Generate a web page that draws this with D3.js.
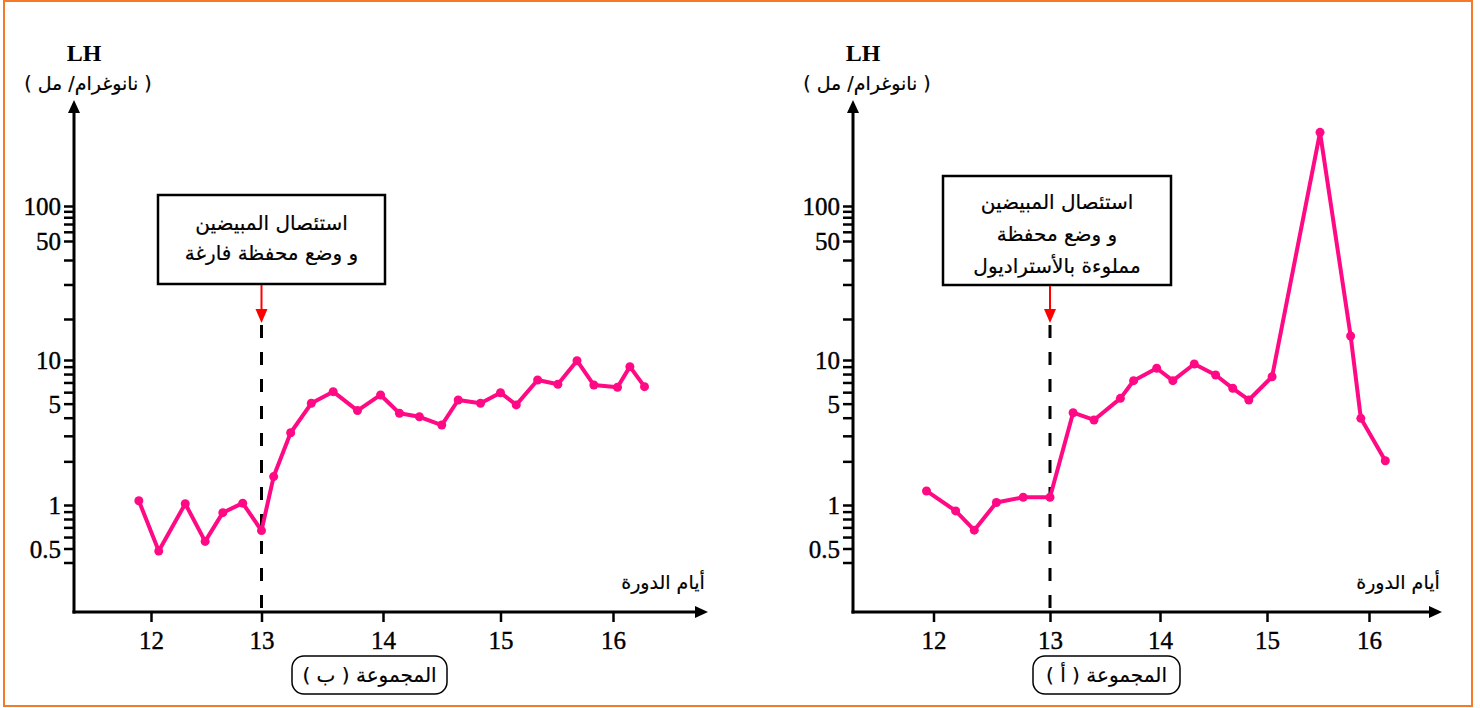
<!DOCTYPE html>
<html><head><meta charset="utf-8">
<script src="https://cdn.jsdelivr.net/npm/d3@7"></script>
<style>body{margin:0;background:#fff}svg{display:block}</style>
</head><body>
<svg id="chart" width="1480" height="708"></svg>
<script>
// ---- data ----
const yTickValues = [0.4,0.5,0.6,0.7,0.8,0.9,1,2,3,4,5,6,7,8,9,10,20,30,40,50,60,70,80,90,100];
const yTickLabels = [0.5,1,5,10,50,100];
const xTickValues = [12,13,14,15,16];
const yUnitLabel = "LH";
const yUnitSub = "( نانوغرام/ مل )";
const xAxisTitle = "أيام الدورة";

// Group B (left)
const groupBDays = [11.89,12.07,12.31,12.49,12.65,12.83,13.0,13.10,13.24,13.41,13.59,13.79,13.98,14.14,14.31,14.50,14.64,14.83,15.00,15.14,15.33,15.51,15.68,15.83,16.04,16.15,16.28];
const groupBLH   = [1.07,0.48,1.02,0.56,0.885,1.03,0.665,1.57,3.15,5.03,6.05,4.48,5.74,4.29,4.06,3.56,5.30,5.03,5.95,4.90,7.28,6.80,9.89,6.72,6.49,9.00,6.55];
const groupBTitle = "المجموعة ( ب )";
const groupBBox = ["استئصال المبيضين","و وضع محفظة فارغة"];

// Group A (right)
const groupADays = [11.94,12.19,12.35,12.54,12.77,13.0,13.21,13.40,13.64,13.76,13.97,14.12,14.32,14.52,14.68,14.83,15.05,15.52,15.82,15.92,16.16];
const groupALH   = [1.25,0.91,0.67,1.04,1.13,1.13,4.33,3.86,5.44,7.20,8.77,7.20,9.38,7.88,6.38,5.30,7.67,322,15.0,3.96,2.02];
const groupATitle = "المجموعة ( أ )";
const groupABox = ["استئصال المبيضين","و وضع محفظة","مملوءة بالأستراديول"];

const interventionDay = 13;

// ---- drawing ----
const svg = d3.select("#chart");
svg.append("rect").attr("width",1480).attr("height",708).attr("fill","#fff");
svg.append("rect").attr("x",4).attr("y",1).attr("width",1468).attr("height",705)
  .attr("fill","none").attr("stroke","#F57A28").attr("stroke-width",2);

const pink = "#FF0A84";
const serif = "'Liberation Serif','DejaVu Serif',serif";
const arab = "'DejaVu Sans',sans-serif";

const yDomain = [0.25,1,10,20,50,100,1000];
const yRange  = [592,505,360,319,241,206,61];

function arText(g, x, y, size, t){
  return g.append("text").attr("x",x).attr("y",y).attr("text-anchor","middle").attr("direction","rtl")
    .attr("font-family",arab).attr("font-size",size).attr("fill","#000")
    .attr("stroke","#000").attr("stroke-width",0.2).text(t);
}

function drawPanel(cfg){
  const x = d3.scaleLinear().domain(xTickValues).range(cfg.xr);
  const y = d3.scaleLog().domain(yDomain).range(yRange);
  const g = svg.append("g");
  const ax = cfg.axisX, by = 612;

  // y axis ticks
  const yAxis = d3.axisLeft(y).tickValues(yTickValues).tickSize(10).tickPadding(3)
    .tickFormat(d => yTickLabels.includes(d) ? String(d) : "");
  const ya = g.append("g").attr("transform",`translate(${ax},0)`).call(yAxis);
  ya.attr("font-family",serif);
  ya.select(".domain").remove();
  ya.selectAll("line").attr("stroke","#000").attr("stroke-width",2.5);
  ya.selectAll("text").attr("font-family",serif).attr("font-size",25).attr("fill","#000")
    .attr("stroke","#000").attr("stroke-width",0.4).attr("dy","0.34em");

  // x axis ticks
  const xAxis = d3.axisBottom(x).tickValues(xTickValues).tickSize(10).tickPadding(9).tickFormat(d3.format("d"));
  const xa = g.append("g").attr("transform",`translate(0,${by})`).call(xAxis);
  xa.attr("font-family",serif);
  xa.select(".domain").remove();
  xa.selectAll("line").attr("stroke","#000").attr("stroke-width",2.5);
  xa.selectAll("text").attr("font-family",serif).attr("font-size",25).attr("fill","#000")
    .attr("stroke","#000").attr("stroke-width",0.4);

  // axis lines with arrows
  g.append("line").attr("x1",ax).attr("y1",by+1.5).attr("x2",ax).attr("y2",110).attr("stroke","#000").attr("stroke-width",3);
  g.append("path").attr("d",`M${ax},100 L${ax-6},113 L${ax+6},113 Z`).attr("fill","#000");
  g.append("line").attr("x1",ax-1.5).attr("y1",by).attr("x2",cfg.xEnd-10).attr("y2",by).attr("stroke","#000").attr("stroke-width",3);
  g.append("path").attr("d",`M${cfg.xEnd},${by} L${cfg.xEnd-13},${by-6} L${cfg.xEnd-13},${by+6} Z`).attr("fill","#000");

  // axis titles
  g.append("text").attr("x",cfg.lhX).attr("y",61).attr("text-anchor","middle")
    .attr("font-family",serif).attr("font-weight","bold").attr("font-size",24).text(yUnitLabel);
  arText(g, cfg.subX, 90, 19, yUnitSub);
  arText(g, cfg.xtX, 589, 19, xAxisTitle);

  // dashed intervention line
  const xi = x(interventionDay);
  g.append("line").attr("x1",xi).attr("x2",xi).attr("y1",325).attr("y2",by)
    .attr("stroke","#000").attr("stroke-width",3).attr("stroke-dasharray","13,14");

  // annotation box
  const b = cfg.box;
  g.append("rect").attr("x",b.x).attr("y",b.y).attr("width",b.w).attr("height",b.h)
    .attr("fill","#fff").attr("stroke","#000").attr("stroke-width",2.5);
  cfg.boxLines.forEach((t,i)=> arText(g, b.x+b.w/2, b.ty+i*b.lh, 20, t));
  // red arrow
  g.append("line").attr("x1",xi).attr("x2",xi).attr("y1",b.y+b.h+1).attr("y2",312).attr("stroke","#F00").attr("stroke-width",2);
  g.append("path").attr("d",`M${xi},323 L${xi-6},309 L${xi+6},309 Z`).attr("fill","#F00");

  // series
  const pts = cfg.days.map((d,i)=>({d, v: cfg.vals[i]}));
  const line = d3.line().x(p=>x(p.d)).y(p=>y(p.v));
  g.append("path").datum(pts).attr("d",line).attr("fill","none").attr("stroke",pink)
    .attr("stroke-width",4).attr("stroke-linejoin","round");
  g.selectAll("circle.pt").data(pts).join("circle").attr("class","pt")
    .attr("cx",p=>x(p.d)).attr("cy",p=>y(p.v)).attr("r",4.5).attr("fill",pink);

  // group label
  const gl = cfg.gl;
  g.append("rect").attr("x",gl.x).attr("y",656).attr("width",gl.w).attr("height",38).attr("rx",12)
    .attr("fill","#fff").attr("stroke","#000").attr("stroke-width",1.5);
  arText(g, gl.x+gl.w/2, 682, 20, cfg.title);
}

drawPanel({
  xr:[151,261.5,383,500.5,613], axisX:74, xEnd:708, lhX:84, subX:88, xtX:663,
  box:{x:158,y:195,w:227,h:89,ty:230,lh:30}, boxLines:groupBBox,
  days:groupBDays, vals:groupBLH, title:groupBTitle, gl:{x:292,w:155}
});
drawPanel({
  xr:[933.5,1050,1160,1267,1369], axisX:853, xEnd:1442, lhX:863, subX:867, xtX:1398,
  box:{x:943,y:176,w:228,h:109,ty:209,lh:32}, boxLines:groupABox,
  days:groupADays, vals:groupALH, title:groupATitle, gl:{x:1033,w:147}
});
</script>
</body></html>
